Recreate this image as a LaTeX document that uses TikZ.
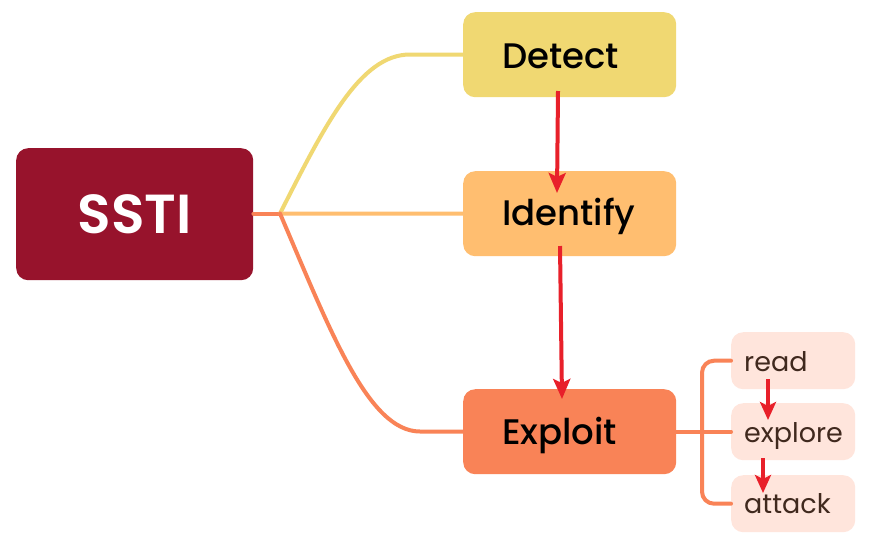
\documentclass[tikz,border=0pt]{standalone}
\usepackage{fontspec}
\setmainfont{Poppins}
\newfontfamily\pmed{Poppins Medium}
\newfontfamily\psemi{Poppins SemiBold}
\usetikzlibrary{arrows.meta}
\definecolor{sstic}{HTML}{97132C}
\definecolor{detc}{HTML}{F0D872}
\definecolor{idc}{HTML}{FFBE70}
\definecolor{exc}{HTML}{F98357}
\definecolor{subc}{HTML}{FFE5DC}
\definecolor{redc}{HTML}{E8202A}
\definecolor{subtxt}{HTML}{40291E}
\tikzset{
  box/.style={rectangle, rounded corners=12pt, draw=none, inner sep=0pt, anchor=north west},
  maintxt/.style={anchor=base west, inner sep=0pt, font=\pmed\fontsize{35.5}{40}\selectfont, text=black},
  subtxt/.style={anchor=base west, inner sep=0pt, font=\fontsize{27}{30}\selectfont, text=subtxt},
  link/.style={line width=4pt, line cap=round},
  redarrow/.style={draw=redc, line width=4pt, -{Stealth[length=20pt,width=17pt,inset=4pt]}},
  smallarrow/.style={draw=redc, line width=4pt, -{Stealth[length=18pt,width=16pt,inset=4pt]}}
}
\begin{document}
\begin{tikzpicture}[x=1pt,y=-1pt]
\path[use as bounding box, fill=white] (0,0) rectangle (890,544);

% boxes
\node[box, fill=sstic, minimum width=237pt, minimum height=132pt] (ssti) at (16,148) {};
\node[box, fill=detc, minimum width=213pt, minimum height=85pt] (detect) at (463,12) {};
\node[box, fill=idc, minimum width=213pt, minimum height=85pt] (identify) at (463,171) {};
\node[box, fill=exc, minimum width=213pt, minimum height=85pt] (exploit) at (463,389) {};
\node[box, fill=subc, minimum width=124pt, minimum height=57pt] (read) at (731,332) {};
\node[box, fill=subc, minimum width=124pt, minimum height=57pt] (explore) at (731,403) {};
\node[box, fill=subc, minimum width=124pt, minimum height=57pt] (attack) at (731,475) {};

% texts
\node[anchor=base, inner sep=0pt, font=\psemi\fontsize{55}{60}\selectfont, text=white] (sstit) at (135,233) {SSTI};
\node[maintxt] (dett) at (502,68) {Detect};
\node[maintxt] (idt) at (502,225) {Identify};
\node[maintxt] (ext) at (502,444) {Exploit};
\node[subtxt] (readt) at (744,371) {read};
\node[subtxt] (explt) at (744,442) {explore};
\node[subtxt] (attt) at (744,513) {attack};

% connectors
\coordinate (j) at (280,213.5);
\coordinate (bx) at (702,432);
\draw[link, draw=exc] (ssti.east |- j) -- (j);
\draw[link, draw=detc] (j) .. controls (325,125) and (360,54.5) .. (410,54.5) -- (detect.west);
\draw[link, draw=idc] (j) -- (identify.west);
\draw[link, draw=exc] (j) .. controls (330,330) and (368,431.5) .. (420,431.5) -- (exploit.west);
\draw[link, draw=exc] (exploit.east) -- (explore.west);
\draw[link, draw=exc, rounded corners=12pt] (read.west) -- (read.west -| bx) -- (attack.west -| bx) -- (attack.west);

% red arrows
\coordinate (a1s) at (558,91);
\coordinate (a1e) at (557,193);
\coordinate (a2s) at (560,246);
\coordinate (a2e) at (562,399);
\coordinate (a3s) at (768,379);
\coordinate (a3e) at (768,420);
\coordinate (a4s) at (763,458);
\coordinate (a4e) at (763,493);
\draw[redarrow] (a1s) -- (a1e);
\draw[redarrow] (a2s) -- (a2e);
\draw[smallarrow] (a3s) -- (a3e);
\draw[smallarrow] (a4s) -- (a4e);
\end{tikzpicture}
\end{document}
